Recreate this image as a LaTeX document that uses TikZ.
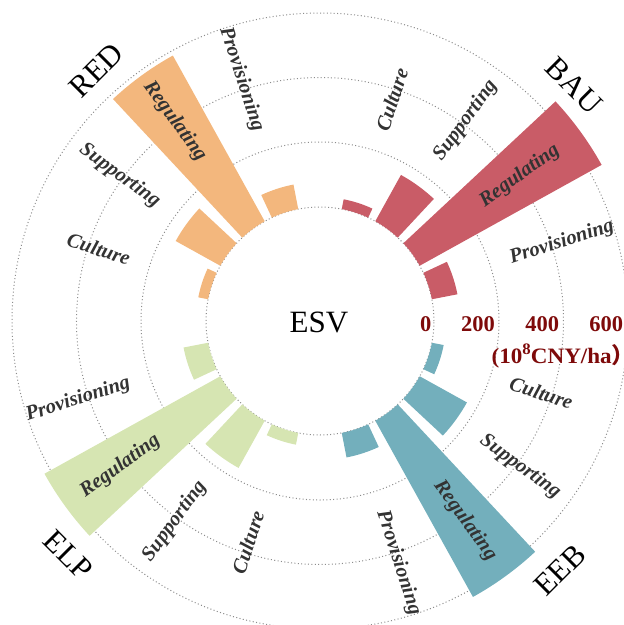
\documentclass[tikz,border=0pt]{standalone}
\usepackage{fontspec}
\setmainfont{Liberation Serif}
\newfontfamily\cjkfont{Noto Sans CJK SC}
\definecolor{cBAU}{HTML}{C95C67}
\definecolor{cRED}{HTML}{F3B77D}
\definecolor{cELP}{HTML}{D6E5B2}
\definecolor{cEEB}{HTML}{73AFBC}
\definecolor{numred}{HTML}{7E0A0A}
\definecolor{labgray}{HTML}{333333}
\definecolor{ringgray}{HTML}{8C8C8C}
\newcommand\esvbar[3]{% centre angle, outer radius, colour
  \fill[#3] ({#1-7}:114) arc[start angle={#1-7}, end angle={#1+7}, radius=114]
    -- ({#1+7}:#2) arc[start angle={#1+7}, end angle={#1-7}, radius=#2] -- cycle;}
\tikzset{
  ring/.style={ringgray, line width=1pt, dash pattern=on 1pt off 2.4pt},
  catlab/.style={font=\bfseries\itshape\fontsize{20.5}{20.5}\selectfont, text=labgray, inner sep=0pt},
  scenlab/.style={font=\fontsize{31}{31}\selectfont, text=black, inner sep=0pt},
  numlab/.style={font=\bfseries\fontsize{22.5}{22.5}\selectfont, text=numred, inner sep=0pt, anchor=base east},
}
\begin{document}
\begin{tikzpicture}[x=1pt,y=1pt]
\useasboundingbox (-320,-304) rectangle (304,321);
% rings
\foreach \r in {114,179,243.5,308} \draw[ring] (0,0) circle[radius=\r];
% bars: BAU
\esvbar{18}{140}{cBAU}
\esvbar{36}{322}{cBAU}
\esvbar{54}{167}{cBAU}
\esvbar{72}{124}{cBAU}
% RED
\esvbar{108}{139}{cRED}
\esvbar{126}{303.5}{cRED}
\esvbar{144}{165}{cRED}
\esvbar{162}{124}{cRED}
% ELP
\esvbar{198}{139}{cELP}
\esvbar{216}{315}{cELP}
\esvbar{234}{168}{cELP}
\esvbar{252}{126}{cELP}
% EEB
\esvbar{288}{139}{cEEB}
\esvbar{306}{315.5}{cEEB}
\esvbar{324}{168}{cEEB}
\esvbar{342}{126}{cEEB}
% category labels, right half
\node[catlab, anchor=west, rotate=18] (bauprov) at (18:200) {Provisioning};
\node[catlab, anchor=west, rotate=36] (baureg) at (36:200) {Regulating};
\node[catlab, anchor=west, rotate=54] (bausup) at (54:200) {Supporting};
\node[catlab, anchor=west, rotate=72] (baucul) at (72:200) {Culture};
\node[catlab, anchor=west, rotate=-72] (eebprov) at (288:200) {Provisioning};
\node[catlab, anchor=west, rotate=-54] (eebreg) at (306:200) {Regulating};
\node[catlab, anchor=west, rotate=-36] (eebsup) at (324:200) {Supporting};
\node[catlab, anchor=west, rotate=-18] (eebcul) at (342:200) {Culture};
% category labels, left half
\node[catlab, anchor=east, rotate=-72] (redprov) at (108:200) {Provisioning};
\node[catlab, anchor=east, rotate=-54] (redreg) at (126:200) {Regulating};
\node[catlab, anchor=east, rotate=-36] (redsup) at (144:200) {Supporting};
\node[catlab, anchor=east, rotate=-18] (redcul) at (162:200) {Culture};
\node[catlab, anchor=east, rotate=18] (elpprov) at (198:200) {Provisioning};
\node[catlab, anchor=east, rotate=36] (elpreg) at (216:200) {Regulating};
\node[catlab, anchor=east, rotate=54] (elpsup) at (234:200) {Supporting};
\node[catlab, anchor=east, rotate=72] (elpcul) at (252:200) {Culture};
% scenario labels
\node[scenlab, rotate=-45] (bau) at (254,235) {BAU};
\node[scenlab, rotate=45] (red) at (-223.3,251) {RED};
\node[scenlab, rotate=-45] (elp) at (-251.7,-234) {ELP};
\node[scenlab, rotate=45] (eeb) at (240,-249) {EEB};
% centre
\node[scenlab] (esv) at (-1,-1.5) {ESV};
% scale
\node[numlab] (n0) at (111.7,-10.7) {0};
\node[numlab] (n200) at (175,-10.7) {200};
\node[numlab] (n400) at (239.3,-10.7) {400};
\node[numlab] (n600) at (303.3,-10.7) {600};
\node[font=\bfseries\fontsize{22}{22}\selectfont, text=numred, inner sep=0pt, anchor=base west, xscale=1.05] (unit) at (171.5,-42.3) {(10\raisebox{0.38em}{\fontsize{16}{16}\selectfont 8}CNY/ha{\cjkfont\bfseries ）}};
\end{tikzpicture}
\end{document}
